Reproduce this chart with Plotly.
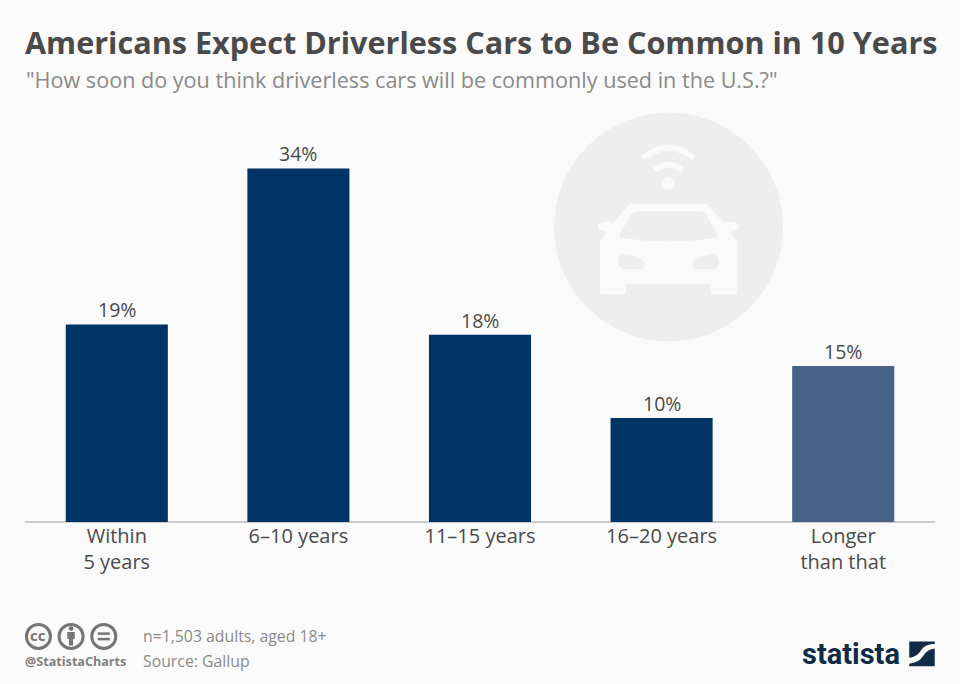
import plotly.graph_objects as go

categories = ["Within<br>5 years", "6–10 years", "11–15 years", "16–20 years", "Longer<br>than that"]
values = [19, 34, 18, 10, 15]
bar_colors = ["#003366", "#003366", "#003366", "#003366", "#476285"]
title_text = "Americans Expect Driverless Cars to Be Common in 10 Years"
subtitle_text = '"How soon do you think driverless cars will be commonly used in the U.S.?"'
note_text = "n=1,503 adults, aged 18+"
source_text = "Source: Gallup"
handle_text = "@StatistaCharts"
logo_text = "statista"

W, H = 960, 684
L, R, T, B = 26.25, 933.75, 105.6, 522
BG = "#fafafa"
FONT = "Open Sans"
TEXT = "#4a4a4a"


def px(x):
    return (x - L) / (R - L)


def py(y):
    return (B - y) / (B - T)


def path(cmds):
    """cmds: list of (letter, x, y, ...) in page pixels -> paper-space SVG path."""
    out = []
    for c in cmds:
        if c[0] == "Z":
            out.append("Z")
            continue
        nums = c[1:]
        pts = []
        for i in range(0, len(nums), 2):
            pts.append(f"{px(nums[i]):.5f},{py(nums[i + 1]):.5f}")
        out.append(c[0] + " ".join(pts))
    return " ".join(out)


def zm(x, y):
    return 540 + x / 3, 120 + y / 3


def zpath(cmds):
    conv = []
    for c in cmds:
        if c[0] == "Z":
            conv.append(c)
            continue
        nums = []
        for i in range(1, len(c), 2):
            nums.extend(zm(c[i], c[i + 1]))
        conv.append((c[0], *nums))
    return path(conv)


def fill_shape(p, color):
    return dict(type="path", xref="paper", yref="paper", path=p, fillcolor=color, line=dict(width=0), layer="below")


def circle(cx, cy, rx, fill, line_color=None, lw=0, ry=None):
    ry = ry if ry is not None else rx
    return dict(type="circle", xref="paper", yref="paper",
                x0=px(cx - rx), x1=px(cx + rx), y0=py(cy + ry), y1=py(cy - ry),
                fillcolor=fill, line=dict(color=line_color or fill, width=lw), layer="below")


shapes = [circle(668.5, 226.7, 114.5, "#eeeeee")]

car_body = [("M", 270, 250), ("L", 500, 250), ("L", 552, 308),
            ("Q", 575, 298, 595, 312), ("Q", 600, 325, 585, 332), ("L", 570, 335),
            ("L", 591, 366), ("L", 591, 516), ("Q", 591, 522, 585, 522),
            ("L", 518, 522), ("Q", 512, 522, 512, 516), ("L", 512, 492),
            ("L", 258, 492), ("L", 258, 516), ("Q", 258, 522, 252, 522),
            ("L", 185, 522), ("Q", 179, 522, 179, 516), ("L", 179, 366),
            ("L", 200, 335), ("L", 185, 332), ("Q", 170, 325, 175, 312),
            ("Q", 195, 298, 218, 308), ("Z",)]
windshield = [("M", 290, 273), ("L", 480, 273), ("Q", 492, 274, 498, 285),
              ("L", 532, 343), ("Q", 535, 352, 520, 354),
              ("Q", 385, 374, 250, 354), ("Q", 235, 352, 238, 343),
              ("L", 272, 285), ("Q", 278, 274, 290, 273), ("Z",)]
lamp_l = [("M", 234, 425), ("Q", 234, 402, 258, 401), ("Q", 285, 405, 312, 425),
          ("Q", 320, 445, 300, 447), ("L", 255, 447), ("Q", 234, 445, 234, 425), ("Z",)]
lamp_r = [("M", 536, 425), ("Q", 536, 402, 512, 401), ("Q", 485, 405, 458, 425),
          ("Q", 450, 445, 470, 447), ("L", 515, 447), ("Q", 536, 445, 536, 425), ("Z",)]
wifi_outer = [("M", 303, 107), ("Q", 385, 40, 467, 107), ("L", 456, 120),
              ("Q", 385, 64, 314, 120), ("Z",)]
wifi_inner = [("M", 339, 143), ("Q", 385, 105, 432, 143), ("L", 420, 156),
              ("Q", 385, 128, 351, 156), ("Z",)]

shapes += [fill_shape(zpath(car_body), BG), fill_shape(zpath(windshield), "#eeeeee"),
           fill_shape(zpath(lamp_l), "#eeeeee"), fill_shape(zpath(lamp_r), "#eeeeee"),
           fill_shape(zpath(wifi_outer), BG), fill_shape(zpath(wifi_inner), BG),
           circle(668.3, 183, 6.3, BG)]

# Creative-commons badges
ICON = "#757575"
for cx in (38.7, 71.3, 104):
    shapes.append(circle(cx, 636.5, 12, BG, ICON, 3))
shapes.append(circle(71.3, 628.7, 2.3, ICON))
shapes.append(fill_shape(path([("M", 67.5, 632), ("L", 75, 632), ("L", 75, 639), ("L", 73.3, 639),
                               ("L", 73.3, 645.5), ("L", 69.2, 645.5), ("L", 69.2, 639), ("L", 67.5, 639), ("Z",)]), ICON))
shapes.append(fill_shape(path([("M", 98, 632.5), ("L", 110, 632.5), ("L", 110, 635), ("L", 98, 635), ("Z",)]), ICON))
shapes.append(fill_shape(path([("M", 98, 638), ("L", 110, 638), ("L", 110, 640.5), ("L", 98, 640.5), ("Z",)]), ICON))

# Statista logo mark
LOGO = "#0f2b46"
shapes.append(fill_shape(path([("M", 909, 641.5), ("L", 934.5, 641.5), ("L", 934.5, 644),
                               ("Q", 925, 644, 921, 650), ("Q", 917, 657, 909, 658), ("Z",)]), LOGO))
shapes.append(fill_shape(path([("M", 934.5, 648.5), ("L", 934.5, 666.5), ("L", 909, 666.5), ("L", 909, 664),
                               ("Q", 919, 663, 923, 656), ("Q", 927, 649, 934.5, 648.5), ("Z",)]), LOGO))


def note(text, x, y, size, color, bold=False, family=FONT, anchor="left"):
    return dict(text=f"<b>{text}</b>" if bold else text, xref="paper", yref="paper",
                x=px(x), y=py(y), xanchor=anchor, yanchor="middle", showarrow=False,
                align="left", font=dict(family=family, size=size, color=color))


annotations = [
    note(title_text, 23, 42, 30.6, TEXT, bold=True),
    note(subtitle_text, 24, 79, 21.6, "#8a8a8a"),
    note(note_text, 141, 636, 15.8, "#8a8a8a"),
    note(source_text, 141, 661, 15.8, "#8a8a8a"),
    note(handle_text, 23.5, 662, 12.6, "#808080", bold=True),
    note("cc", 38.7, 635.5, 15, ICON, bold=True, anchor="center"),
    note(logo_text, 800, 654.5, 29, LOGO, bold=True, family="Roboto"),
]

# Value labels sit just above each bar
for cat, val in zip(categories, values):
    annotations.append(dict(x=cat, y=val, xref="x", yref="y", text=f"{val}%", showarrow=False,
                            yanchor="bottom", yshift=-1, font=dict(family=FONT, size=19.5, color=TEXT)))

fig = go.Figure(go.Bar(
    x=categories, y=values,
    marker=dict(color=bar_colors, line=dict(width=0)),
    hoverinfo="skip",
))

fig.update_layout(
    width=W, height=H, autosize=False,
    margin=dict(l=L, r=W - R, t=T, b=H - B, pad=0),
    paper_bgcolor=BG, plot_bgcolor=BG,
    bargap=0.438, showlegend=False,
    shapes=shapes, annotations=annotations,
    font=dict(family=FONT),
    xaxis=dict(type="category", showgrid=False, zeroline=False, showline=False,
               ticks="", ticklen=0, tickangle=0,
               tickfont=dict(family=FONT, size=20, color=TEXT)),
    yaxis=dict(range=[0, 40], visible=False, showgrid=False, zeroline=True),
)
fig.add_shape(type="line", xref="paper", yref="paper", x0=px(25), x1=px(935), y0=0, y1=0,
              line=dict(color="#cccccc", width=2), layer="below")

fig.write_html("out.html", config=dict(displayModeBar=False),
               post_script="document.body.style.margin='0';document.body.style.background='#fafafa';")
